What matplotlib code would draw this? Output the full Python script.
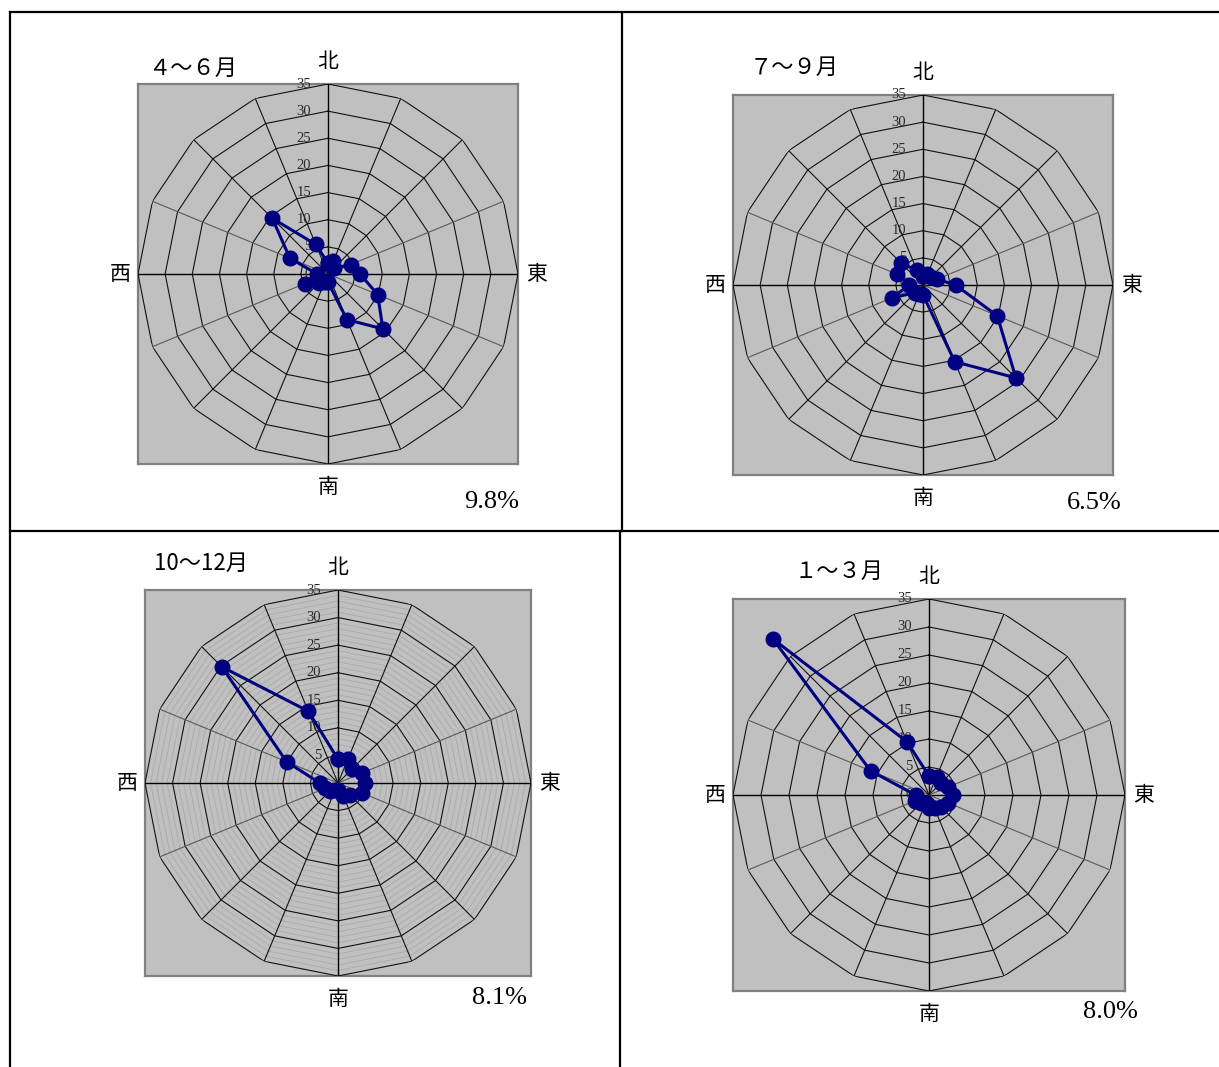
import numpy as np
import matplotlib.pyplot as plt
from matplotlib.lines import Line2D

# Wind direction frequency (%), 16 points clockwise from north
directions = ['N', 'NNE', 'NE', 'ENE', 'E', 'ESE', 'SE', 'SSE',
              'S', 'SSW', 'SW', 'WSW', 'W', 'WNW', 'NW', 'NNW']
apr_jun = [2.0, 2.6, 1.5, 4.5, 5.9, 9.9, 14.3, 9.1, 1.5, 1.5, 2.3, 4.6, 2.0, 7.6, 14.5, 5.9]
jul_sep = [1.7, 2.1, 2.0, 2.8, 6.0, 14.8, 24.2, 15.3, 1.8, 1.8, 2.0, 6.2, 2.5, 5.2, 5.7, 2.9]
oct_dec = [4.3, 4.8, 3.5, 4.7, 4.9, 4.8, 3.2, 2.6, 1.2, 1.4, 2.0, 2.5, 3.3, 10.1, 29.8, 14.1]
jan_mar = [3.4, 3.5, 3.1, 3.7, 4.2, 3.6, 3.0, 2.6, 2.4, 1.5, 2.0, 2.8, 2.4, 11.3, 39.4, 10.3]
calm = ['9.8%', '6.5%', '8.1%', '8.0%']
titles = ['４～６月', '７～９月', '10～12月', '１～３月']
compass = ['北', '東', '南', '西']
r_ticks = [0, 5, 10, 15, 20, 25, 30, 35]
r_max = 35

W, H = 1219, 1067
fig = plt.figure(figsize=(W / 100, H / 100), dpi=100)
fig.patch.set_facecolor('white')

CJK = ['Noto Sans CJK JP', 'DejaVu Sans']
SERIF = 'Liberation Serif'


def fx(x):
    return x / W


def fy(y):
    return 1 - y / H


# table borders (pixel coordinates)
borders = [((10, 12), (1219, 12)), ((10, 12), (10, 1067)),
           ((621.5, 12), (621.5, 531)), ((10, 531), (1219, 531)),
           ((620, 531), (620, 1067))]
for (x0, y0), (x1, y1) in borders:
    fig.add_artist(Line2D([fx(x0), fx(x1)], [fy(y0), fy(y1)], color='black', lw=1.6))

# panel layout: left, top, size of grey plot area, title position, percent position
panels = [
    dict(left=138, top=84, size=380, title=(148, 68), pct=(519, 502), minor=False),
    dict(left=733, top=95, size=380, title=(750, 67), pct=(1122, 503), minor=False),
    dict(left=145, top=590, size=386, title=(154, 563), pct=(527, 998), minor=True),
    dict(left=733, top=599, size=392, title=(795, 571), pct=(1138, 1012), minor=False),
]
series = [apr_jun, jul_sep, oct_dec, jan_mar]

theta = np.arange(len(directions)) * 2 * np.pi / len(directions)
theta_c = np.append(theta, theta[0])

for p, vals, title, pct in zip(panels, series, titles, calm):
    l, t, s = p['left'], p['top'], p['size']
    rect = [fx(l), fy(t + s), s / W, s / H]

    bg = fig.add_axes(rect)
    bg.set_facecolor('#c0c0c0')
    bg.set_xticks([])
    bg.set_yticks([])
    for sp in bg.spines.values():
        sp.set_color('#808080')
        sp.set_linewidth(1.6)

    ax = fig.add_axes(rect, projection='polar')
    ax.set_theta_zero_location('N')
    ax.set_theta_direction(-1)
    ax.set_ylim(0, r_max)
    ax.grid(False)
    ax.set_xticks([])
    ax.set_yticks([])
    ax.spines['polar'].set_visible(False)
    ax.patch.set_alpha(0)

    # minor rings (only in the autumn panel)
    if p['minor']:
        for r in range(1, r_max):
            if r % 5:
                ax.plot(theta_c, [r] * len(theta_c), color='#aaaaaa', lw=0.6, zorder=1)
    # major rings
    for r in r_ticks[1:]:
        ax.plot(theta_c, [r] * len(theta_c), color='#111111', lw=0.8, zorder=2)
    # spokes
    for i, th in enumerate(theta):
        if i % 4 == 0:
            c, w = '#000000', 1.0
        elif i in (3, 5, 11, 13):
            c, w = '#5a5a5a', 0.8
        else:
            c, w = '#111111', 0.8
        ax.plot([th, th], [0, r_max], color=c, lw=w, zorder=2)

    # radial tick labels along the north spoke
    for r in r_ticks:
        ax.annotate(str(r), xy=(0, r), xytext=(-12, 0), textcoords='offset points',
                    ha='right', va='center', fontsize=10.5, family=SERIF,
                    color='#2a2a2a', zorder=3, annotation_clip=False)

    v = list(vals) + [vals[0]]
    ax.plot(theta_c, v, color='#000080', lw=2.2, marker='o', ms=10.5,
            markerfacecolor='#000080', markeredgecolor='#000080',
            clip_on=False, zorder=5)

    cx, cy = l + s / 2, t + s / 2
    fig.text(fx(cx), fy(t - 22), compass[0], ha='center', va='center', fontsize=15, family=CJK)
    fig.text(fx(l + s + 19), fy(cy), compass[1], ha='center', va='center', fontsize=15, family=CJK)
    fig.text(fx(cx), fy(t + s + 23), compass[2], ha='center', va='center', fontsize=15, family=CJK)
    fig.text(fx(l - 18), fy(cy), compass[3], ha='center', va='center', fontsize=15, family=CJK)

    fig.text(fx(p['title'][0]), fy(p['title'][1]), title, ha='left', va='center',
             fontsize=16, family=CJK)
    fig.text(fx(p['pct'][0]), fy(p['pct'][1]), pct, ha='right', va='center',
             fontsize=19, family=SERIF)

fig.savefig('out.png', dpi=100)
